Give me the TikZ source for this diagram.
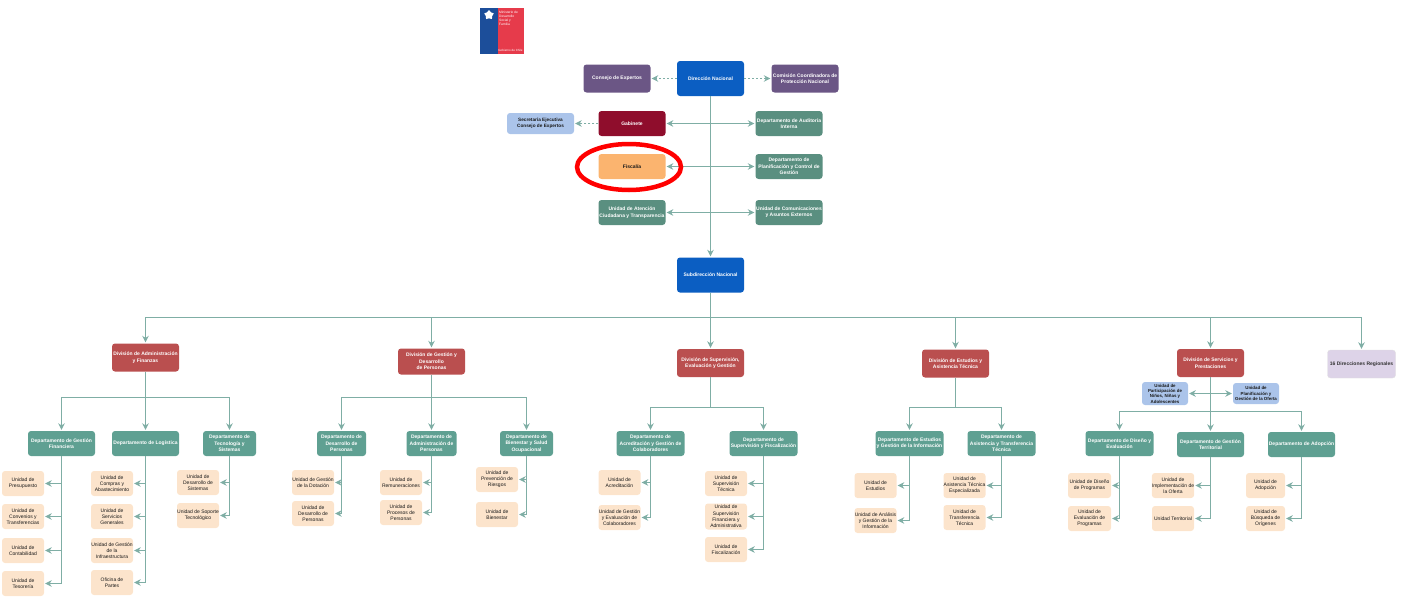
\documentclass[tikz,border=0pt]{standalone}
\usepackage{fontspec}
\setmainfont{Liberation Sans}
\usepackage{xcolor}
\usetikzlibrary{arrows.meta,shapes.geometric}
\definecolor{blueDir}{HTML}{0B5EC2}
\definecolor{blueLogo}{HTML}{1C4E9A}
\definecolor{redLogo}{HTML}{E63B4B}
\definecolor{purpleBox}{HTML}{6B5685}
\definecolor{wineBox}{HTML}{8F0D2C}
\definecolor{skyBox}{HTML}{ABC4EA}
\definecolor{sageBox}{HTML}{5A8F80}
\definecolor{orangeBox}{HTML}{FBB46F}
\definecolor{redBox}{HTML}{BA4F4F}
\definecolor{tealBox}{HTML}{5FA092}
\definecolor{peachBox}{HTML}{FCE4CC}
\definecolor{lilacBox}{HTML}{DDD3E8}
\definecolor{linkCol}{HTML}{7FAEA5}
\tikzset{
	box/.style={rounded corners=3pt,align=center,inner sep=0pt,text=white,font=\fontsize{5}{6.4}\selectfont\bfseries,minimum width=67pt,minimum height=25pt},
	dirbox/.style={box,fill=blueDir,minimum height=35pt},
	advbox/.style={box,fill=purpleBox,minimum height=28pt},
	stafbox/.style={box,fill=sageBox},
	divbox/.style={box,fill=redBox,minimum height=28pt},
	depbox/.style={box,fill=tealBox},
	unitbox/.style={box,fill=peachBox,text=black!90,font=\fontsize{5}{6.2}\selectfont,minimum width=42pt},
	skybox/.style={box,fill=skyBox,text=black!90,font=\fontsize{4.7}{5.6}\selectfont\bfseries},
	link/.style={draw=linkCol,line width=1.7pt,-{Stealth[length=6.5pt,width=6.5pt]},shorten >=1pt},
	thinlink/.style={link,line width=1.5pt,{Stealth[length=6.5pt,width=6.5pt]}-{Stealth[length=6.5pt,width=6.5pt]},shorten <=1pt},
	dashlink/.style={link,line width=1pt,dash pattern=on 2pt off 2pt}
}
\begin{document}
\begin{tikzpicture}[x=1pt,y=-1pt]
	\useasboundingbox (0,0) rectangle (1403,597);
	% logo
	\fill[blueLogo] (480,8) rectangle (497.5,54);
	\fill[redLogo] (497.5,8) rectangle (523.5,54);
	\node (LOGO) at (499,18.5) [anchor=west,align=left,text=white,inner sep=0pt,font=\fontsize{3.3}{3.8}\selectfont] {Ministerio de\\Desarrollo\\Social y\\Familia};
	\node (GOB) at (510.5,50) [text=white,inner sep=0pt,font=\fontsize{3}{3.4}\selectfont] {Gobierno de Chile};
	\node (STAR) at (489,15) [star,star points=5,fill=white,inner sep=0pt,minimum size=10pt] {};
	%
	\node (DN) at (710.5,78.5) [dirbox] {Dirección Nacional};
	\node (CE) at (617,78.5) [advbox] {Consejo de Expertos};
	\node (CC) at (805,78.5) [advbox] {Comisión Coordinadora de\\Protección Nacional};
	\node (GAB) at (632,123.5) [box,fill=wineBox] {Gabinete};
	\node (SEC) at (540.5,123.5) [skybox,minimum height=21pt] {Secretaría Ejecutiva\\Consejo de Expertos};
	\node (AUD) at (789,123.5) [stafbox] {Departamento de Auditoría\\Interna};
	\node (FIS) at (632,166.5) [box,fill=orangeBox,text=black!90] {Fiscalía};
	\node (PLA) at (789,166.5) [stafbox] {Departamento de\\Planificación y Control de\\Gestión};
	\node (ATE) at (632,212.5) [stafbox] {Unidad de Atención\\Ciudadana y Transparencia};
	\node (COM) at (789,212.5) [stafbox] {Unidad de Comunicaciones\\y Asuntos Externos};
	\node (SN) at (710.5,275) [dirbox] {Subdirección Nacional};
	\coordinate (busN) at (710.5,317.5);
	%
	\draw [dashlink] (DN) -- (CE);
	\draw [dashlink] (DN) -- (CC);
	\draw [dashlink] (GAB) -- (SEC);
	\draw [link] (DN) -- (SN);
	\draw [thinlink] (GAB) -- (AUD);
	\draw [thinlink] (FIS) -- (PLA);
	\draw [thinlink] (ATE) -- (COM);
	% divisiones
	\node (DAF) at (145.5,357.5) [divbox] {División de Administración\\y Finanzas};
	\node (DGP) at (431.5,361.5) [divbox,minimum height=26pt] {División de Gestión y\\Desarrollo\\de Personas};
	\node (DSE) at (710.5,363) [divbox] {División de Supervisión,\\Evaluación y Gestión};
	\node (DEA) at (955.5,363.5) [divbox] {División de Estudios y\\Asistencia Técnica};
	\node (DSP) at (1210.5,363) [divbox] {División de Servicios y\\Prestaciones};
	\node (REG) at (1361.5,364) [box,fill=lilacBox,draw=black!12,text=black!80,minimum width=68pt,minimum height=28pt] {16 Direcciones Regionales};
	%
	\draw [link,-] (SN) -- (busN);
	\foreach \d in {DAF,DGP,DSE,DEA,DSP,REG}
		\draw [link] (busN) -| (\d.north);
	% administracion y finanzas
	\node (GFI) at (61.5,443.5) [depbox] {Departamento de Gestión\\Financiera};
	\node (LOG) at (145.5,443.5) [depbox] {Departamento de Logística};
	\node (TSI) at (229.5,443.5) [depbox,minimum width=53pt] {Departamento de\\Tecnología y\\Sistemas};
	\coordinate (busA) at (145.5,397.5);
	\node (PRE) at (23,483.5) [unitbox] {Unidad de\\Presupuesto};
	\node (CON) at (23,516.5) [unitbox] {Unidad de\\Convenios y\\Transferencias};
	\node (CTB) at (23,550.5) [unitbox] {Unidad de\\Contabilidad};
	\node (TES) at (23,583.5) [unitbox] {Unidad de\\Tesorería};
	\node (CAB) at (112,483.5) [unitbox] {Unidad de\\Compras y\\Abastecimiento};
	\node (SGE) at (112,516.5) [unitbox] {Unidad de\\Servicios\\Generales};
	\node (INF) at (112,550.5) [unitbox] {Unidad de Gestión\\de la\\Infraestructura};
	\node (OFP) at (112,582.5) [unitbox] {Oficina de\\Partes};
	\node (DSI) at (198,482.5) [unitbox] {Unidad de\\Desarrollo de\\Sistemas};
	\node (SOP) at (198,515.5) [unitbox] {Unidad de Soporte\\Tecnológico};
	%
	\draw [link,-] (DAF) -- (busA);
	\foreach \d in {GFI,LOG,TSI}
		\draw [link] (busA) -| (\d.north);
	\foreach \u in {PRE,CON,CTB,TES}
		\draw [link] (GFI.south) |- (\u.east);
	\foreach \u in {CAB,SGE,INF,OFP}
		\draw [link] (LOG.south) |- (\u.east);
	\foreach \u in {DSI,SOP}
		\draw [link] (TSI.south) |- (\u.east);
	% gestion y desarrollo de personas
	\node (DDP) at (341.5,443.5) [depbox,minimum width=49pt] {Departamento de\\Desarrollo de\\Personas};
	\node (DAP) at (431.5,443.5) [depbox,minimum width=50pt] {Departamento de\\Administración de\\Personas};
	\node (DBS) at (526.5,443.5) [depbox,minimum width=53pt] {Departamento de\\Bienestar y Salud\\Ocupacional};
	\coordinate (busG) at (431.5,397.5);
	\node (DOT) at (313,482.5) [unitbox] {Unidad de Gestión\\de la Dotación};
	\node (UDP) at (313,513.5) [unitbox] {Unidad de\\Desarrollo de\\Personas};
	\node (REM) at (401,482.5) [unitbox] {Unidad de\\Remuneraciones};
	\node (PRP) at (401,512.5) [unitbox] {Unidad de\\Procesos de\\Personas};
	\node (PRV) at (497,479.5) [unitbox] {Unidad de\\Prevención de\\Riesgos};
	\node (BIE) at (497,514.5) [unitbox] {Unidad de\\Bienestar};
	%
	\draw [link,-] (DGP) -- (busG);
	\foreach \d in {DDP,DAP,DBS}
		\draw [link] (busG) -| (\d.north);
	\foreach \u in {DOT,UDP}
		\draw [link] (DDP.south) |- (\u.east);
	\foreach \u in {REM,PRP}
		\draw [link] (DAP.south) |- (\u.east);
	\foreach \u in {PRV,BIE}
		\draw [link] (DBS.south) |- (\u.east);
	% supervision
	\node (DAG) at (650.5,443.5) [depbox,minimum width=68pt] {Departamento de\\Acreditación y Gestión de\\Colaboradores};
	\node (DSF) at (763.5,443.5) [depbox,minimum width=68pt] {Departamento de\\Supervisión y Fiscalización};
	\coordinate (busS) at (710.5,407.5);
	\node (ACR) at (619.5,482.5) [unitbox] {Unidad de\\Acreditación};
	\node (GEC) at (619.5,517.5) [unitbox] {Unidad de Gestión\\y Evaluación de\\Colaboradores};
	\node (SUT) at (726,483.5) [unitbox] {Unidad de\\Supervisión\\Técnica};
	\node (SUF) at (726,516.5) [unitbox,minimum height=26pt] {Unidad de\\Supervisión\\Financiera y\\Administrativa};
	\node (FIZ) at (726,549.5) [unitbox] {Unidad de\\Fiscalización};
	%
	\draw [link,-] (DSE) -- (busS);
	\foreach \d in {DAG,DSF}
		\draw [link] (busS) -| (\d.north);
	\foreach \u in {ACR,GEC}
		\draw [link] (DAG.south) |- (\u.east);
	\foreach \u in {SUT,SUF,FIZ}
		\draw [link] (DSF.south) |- (\u.east);
	% estudios
	\node (DEG) at (909.5,443.5) [depbox,minimum width=68pt] {Departamento de Estudios\\y Gestión de la Información};
	\node (DAT) at (1001.5,443.5) [depbox,minimum width=68pt] {Departamento de\\Asistencia y Transferencia\\Técnica};
	\coordinate (busE) at (955.5,407.5);
	\node (EST) at (875.5,485.5) [unitbox] {Unidad de\\Estudios};
	\node (ANA) at (875.5,520.5) [unitbox] {Unidad de Análisis\\y Gestión de la\\Información};
	\node (ATC) at (964.5,485.5) [unitbox] {Unidad de\\Asistencia Técnica\\Especializada};
	\node (TRA) at (964.5,517.5) [unitbox] {Unidad de\\Transferencia\\Técnica};
	%
	\draw [link,-] (DEA) -- (busE);
	\foreach \d in {DEG,DAT}
		\draw [link] (busE) -| (\d.north);
	\foreach \u in {EST,ANA}
		\draw [link] (DEG.south) |- (\u.east);
	\foreach \u in {ATC,TRA}
		\draw [link] (DAT.south) |- (\u.east);
	% servicios y prestaciones
	\node (PAR) at (1165,393.5) [skybox,minimum width=46pt,minimum height=23pt,font=\fontsize{4.4}{5.3}\selectfont\bfseries] {Unidad de\\Participación de\\Niños, Niñas y\\Adolescentes};
	\node (POF) at (1256,393.5) [skybox,minimum width=46pt,minimum height=21pt,font=\fontsize{4.4}{5.6}\selectfont\bfseries] {Unidad de\\Planificación y\\Gestión de la Oferta};
	\node (DDE) at (1119.5,443.5) [depbox,minimum width=68pt] {Departamento de Diseño y\\Evaluación};
	\node (DGT) at (1210.5,444.5) [depbox] {Departamento de Gestión\\Territorial};
	\node (DAD) at (1301.5,444.5) [depbox] {Departamento de Adopción};
	\coordinate (busP) at (1210.5,411.5);
	\node (DIS) at (1089.5,485.5) [unitbox,minimum width=43pt] {Unidad de Diseño\\de Programas};
	\node (EVA) at (1089.5,518.5) [unitbox,minimum width=43pt] {Unidad de\\Evaluación de\\Programas};
	\node (IMP) at (1173,485.5) [unitbox] {Unidad de\\Implementación de\\la Oferta};
	\node (TER) at (1173,518.5) [unitbox] {Unidad Territorial};
	\node (ADO) at (1265.5,485.5) [unitbox,minimum width=39pt] {Unidad de\\Adopción};
	\node (BUS) at (1265.5,518.5) [unitbox,minimum width=39pt] {Unidad de\\Búsqueda de\\Orígenes};
	%
	\draw [thinlink] (PAR) -- (POF);
	\draw [link,-] (DSP) -- (busP);
	\foreach \d in {DDE,DGT,DAD}
		\draw [link] (busP) -| (\d.north);
	\foreach \u in {DIS,EVA}
		\draw [link] (DDE.south) |- (\u.east);
	\foreach \u in {IMP,TER}
		\draw [link] (DGT.south) |- (\u.east);
	\foreach \u in {ADO,BUS}
		\draw [link] (DAD.south) |- (\u.east);
	% marca de Fiscalia
	\node (MARK) at (629,167) [ellipse,draw=red,line width=4.5pt,minimum width=104pt,minimum height=46pt,inner sep=0pt] {};
\end{tikzpicture}
\end{document}
